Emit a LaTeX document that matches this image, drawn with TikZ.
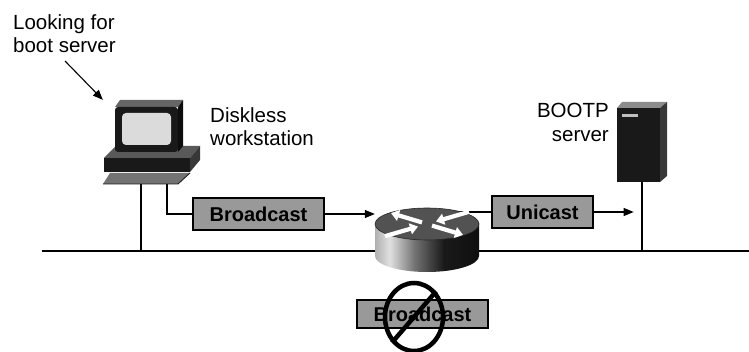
\documentclass[tikz,border=0pt]{standalone}
\usepackage{fontspec}
\setmainfont{Liberation Sans}
\usetikzlibrary{arrows.meta,shapes.geometric,calc}

% side of the router cylinder: dull at the left rim, bright highlight, dark to the right
\pgfdeclarehorizontalshading{routerside}{100bp}{%
  color(0bp)=(black!80); color(20bp)=(black!45); color(32bp)=(black!12);
  color(44bp)=(black!55); color(58bp)=(black!90); color(100bp)=(black)}

\begin{document}
\begin{tikzpicture}[x=1pt,y=-1pt,
  lbl/.style={font=\fontsize{20.5}{23.5}\selectfont, inner sep=0pt},
  msgbox/.style={draw=black, line width=1.3pt, fill=black!40, inner sep=0pt,
                 font=\fontsize{20}{22}\selectfont\bfseries},
  wire/.style={line width=1.1pt},
  lan/.style={line width=1.5pt},
  flow/.style={line width=1.1pt, -{Triangle[length=10pt,width=8pt]}},
  hidden/.style={inner sep=0pt, minimum width=#1}
]
\useasboundingbox (0,0) rectangle (749,352);

% ---------- anchor points of the devices ----------
\node[hidden=97pt, minimum height=83pt] (pc) at (151.5,141.5) {};
\node[hidden=104pt, minimum height=64pt] (router) at (427,240) {};
\node[hidden=50pt, minimum height=80pt] (server) at (642,142) {};
\coordinate (pcA) at (141,183);
\coordinate (pcB) at (167,183);
\coordinate (lanL) at (42,251);
\coordinate (lanR) at (749,251);

% ---------- message boxes ----------
\node[msgbox, minimum width=131pt, minimum height=32pt] (bcast) at (258.5,214) {Broadcast};
\node[msgbox, minimum width=101pt, minimum height=32pt] (ucast) at (542.5,212) {Unicast};
\node[msgbox, minimum width=131pt, minimum height=28pt] (nobcast) at (422.5,314) {Broadcast};

% ---------- LAN and connectors ----------
\draw[lan] (lanL) -- (lanR);
\draw[wire] (pcA) -- (pcA |- lanL);
\draw[wire] (pcB) |- (bcast.west);
\draw[flow] (bcast.east) -- (router.west |- bcast.east);
\draw[wire] (router.center |- ucast.west) -- (ucast.west);
\draw[flow] (ucast.east) -- ++(40,0);
\draw[wire] (server.south) -- (server.south |- lanL);

% ---------- workstation ----------
% keyboard plate
\fill[black!55] (110,173) -- (190,173) -- (178,184) -- (103,184) -- cycle;
\draw[black!90, line width=0.8pt] (103,184) -- (178,184) -- (190,173);
% system unit
\fill[black!65] (116,146) -- (200,146) -- (190,158) -- (104,158) -- cycle;
\fill[black!90] (104,158) rectangle (190,172);
\fill[black!78] (190,158) -- (200,146) -- (200,160) -- (190,172) -- cycle;
% monitor
\fill[black!60] (115,107) -- (120,100) -- (183,100) -- (178,107) -- cycle;
\fill[black!90, rounded corners=3pt] (115,107) rectangle (178,152);
\fill[black!95] (178,107) -- (183,100) -- (183,146) -- (178,152) -- cycle;
\fill[black!14, rounded corners=4pt] (122,113) rectangle (171,145);

% ---------- router ----------
\shade[shading=routerside] (375,224) rectangle (479,256);
\shade[shading=routerside] (427,256) ellipse [x radius=52, y radius=16];
\fill[black!68] (427,224) ellipse [x radius=52, y radius=16];
\draw[black!85, line width=0.6pt] (427,224) ellipse [x radius=52, y radius=16];
\begin{scope}[shift={(427,224)}, yscale=0.32]
  \tikzset{rarrow/.style={white, line width=4.2pt, -{Triangle[length=8pt,width=11pt]}}}
  \draw[rarrow] (-42,38) -- (-9,8);
  \draw[rarrow] (42,-38) -- (9,-8);
  \draw[rarrow] (5,5) -- (36,34);
  \draw[rarrow] (-5,-5) -- (-36,-34);
\end{scope}

% ---------- BOOTP server ----------
\fill[black!45] (617,108) -- (622,102) -- (667,102) -- (660,108) -- cycle;
\fill[black!90] (617,108) rectangle (660,182);
\fill[black!78] (660,108) -- (667,102) -- (667,176) -- (660,182) -- cycle;
\fill[black!25] (622,114) rectangle (638,117);

% ---------- blocked broadcast ----------
\node[draw, ellipse, line width=4.5pt, inner sep=0pt,
      minimum width=58pt, minimum height=68pt] (nosign) at (414,317) {};
\draw[line width=4.5pt] (nosign.north east) -- (nosign.south west);

% ---------- labels ----------
\node[lbl, anchor=north west, align=left] (looking) at (13,14) {Looking for\\boot server};
\draw[line width=1.1pt, -{Triangle[length=10pt,width=8pt]}] (looking.south west) ++(52,8) -- (pc.north west);
\node[lbl, anchor=north west, align=left] (disk) at (210,107) {Diskless\\workstation};
\node[lbl, anchor=north east, align=right] (boot) at (609,103) {BOOTP\\server};
\end{tikzpicture}
\end{document}
